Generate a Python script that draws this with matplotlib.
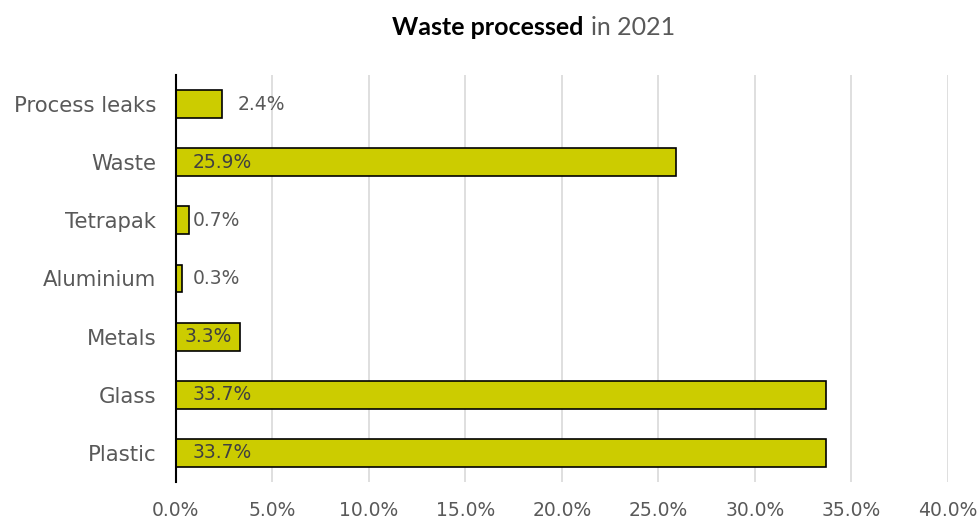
import matplotlib
matplotlib.use("Agg")
import matplotlib.pyplot as plt
from matplotlib.ticker import FuncFormatter

categories = ["Plastic", "Glass", "Metals", "Aluminium", "Tetrapak", "Waste", "Process leaks"]
values = [33.7, 33.7, 3.3, 0.3, 0.7, 25.9, 2.4]
xticks = [0, 5, 10, 15, 20, 25, 30, 35, 40]

grey = "#595959"
fig = plt.figure(figsize=(9.77, 5.22), dpi=100)
ax = fig.add_axes([0.180, 0.077, 0.790, 0.779])

ypos = range(len(categories))
ax.barh(ypos, values, height=0.48, color="#CCCC00", edgecolor="black", linewidth=1.2, zorder=3)

# labels: most sit near the base, the 2.4% one sits just past its bar end
for y, v in zip(ypos, values):
    if v == 2.4:
        ax.annotate(f"{v:.1f}%", (v, y), xytext=(11, 0), textcoords="offset points",
                    va="center", ha="left", fontsize=13.5, color=grey, zorder=4)
    else:
        x0 = 0.45 if v == 3.3 else 0.85
        ax.annotate(f"{v:.1f}%", (x0, y), va="center", ha="left", fontsize=13.5,
                    color="#404040" if v > 1 else grey, zorder=4)

ax.set_xlim(0, 40)
ax.set_ylim(-0.5, 6.5)
ax.set_xticks(xticks)
ax.xaxis.set_major_formatter(FuncFormatter(lambda x, p: f"{x:.1f}%"))
ax.set_yticks(list(ypos))
ax.set_yticklabels(categories)
ax.tick_params(axis="both", length=0, colors=grey)
ax.tick_params(axis="y", labelsize=15.3, pad=14)
ax.tick_params(axis="x", labelsize=13.5, pad=14)
ax.grid(axis="x", color="#D9D9D9", linewidth=1.2, zorder=0)
for s in ["top", "right", "bottom"]:
    ax.spines[s].set_visible(False)
ax.spines["left"].set_color("black")
ax.spines["left"].set_linewidth(1.5)
ax.spines["left"].set_zorder(5)

fig.text(0.597, 0.948, "Waste processed", ha="right", va="center", fontsize=18,
         fontweight="bold", family="Lato", color="black")
fig.text(0.605, 0.948, "in 2021", ha="left", va="center", fontsize=18,
         family="Lato", color=grey)

fig.savefig("out.png", dpi=100)
